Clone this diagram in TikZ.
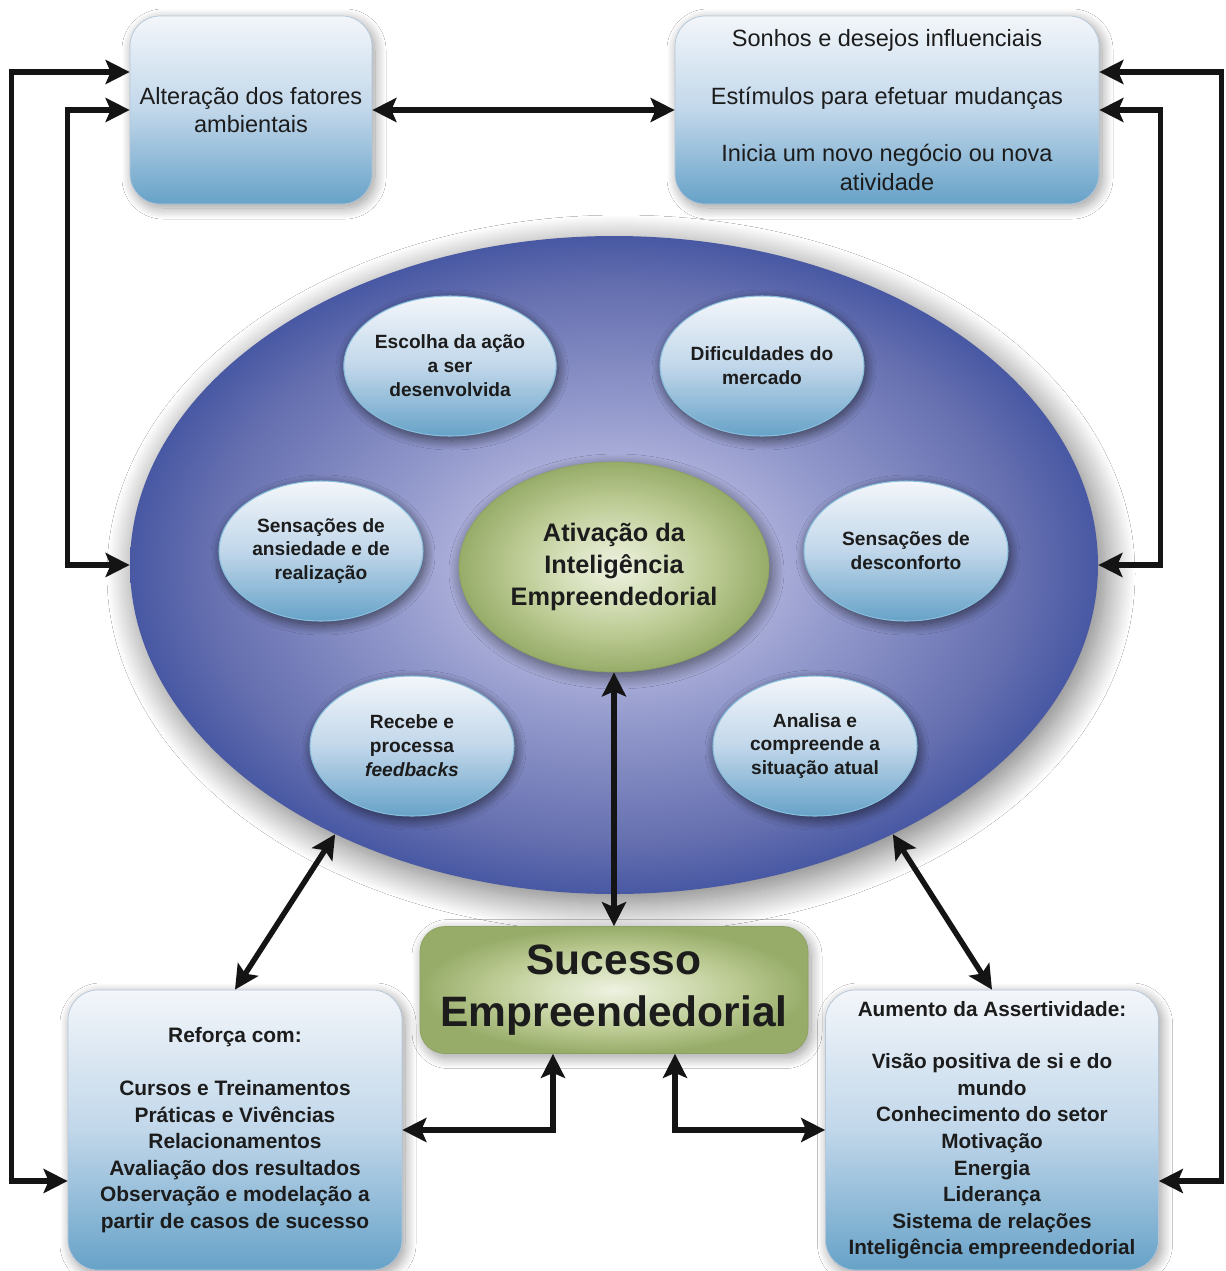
\documentclass[tikz,border=0pt]{standalone}
\usepackage{fontspec}
\setmainfont{Liberation Sans}
\usetikzlibrary{arrows.meta,shapes.geometric,shadows.blur}

\definecolor{boxtop}{HTML}{F3F6FA}
\definecolor{boxmid}{HTML}{C1D7EA}
\definecolor{boxbot}{HTML}{67A2C8}
\definecolor{boxline}{HTML}{B4C6D8}
\definecolor{bubbleline}{HTML}{86BEDC}
\definecolor{ovalin}{HTML}{C9CCE9}
\definecolor{ovalring}{HTML}{B0B3DC}
\definecolor{ovalmid}{HTML}{9097CA}
\definecolor{ovaldeep}{HTML}{6670B0}
\definecolor{ovalout}{HTML}{4858A3}
\definecolor{leafin}{HTML}{EEF2E1}
\definecolor{leafring}{HTML}{D6E0BB}
\definecolor{leafmid}{HTML}{BBCA92}
\definecolor{leafout}{HTML}{97AC69}
\definecolor{leafline}{HTML}{8CA262}
\definecolor{inkgray}{HTML}{1C1C1C}

% path bbox maps to the inner 50bp square
\pgfdeclareradialshading{ovalglow}{\pgfpoint{0bp}{0bp}}{color(0bp)=(ovalin); color(7bp)=(ovalring); color(12.5bp)=(ovalmid); color(21bp)=(ovaldeep); color(25bp)=(ovalout); color(50bp)=(ovalout)}
\pgfdeclareradialshading{leafglow}{\pgfpoint{0bp}{0bp}}{color(0bp)=(leafin); color(8bp)=(leafring); color(16bp)=(leafmid); color(25bp)=(leafout); color(50bp)=(leafout)}

\begin{document}
\begin{tikzpicture}[
  >={Stealth[length=0.48cm,width=0.48cm,inset=0.1cm]},
  box/.style={rectangle, rounded corners=0.6cm, draw=boxline, line width=0.4pt,
    top color=boxtop, bottom color=boxbot, middle color=boxmid,
    blur shadow={shadow xshift=0.6mm, shadow yshift=-0.8mm, shadow blur radius=2.2mm,
      shadow blur steps=24, shadow opacity=40},
    text=inkgray, align=center, inner sep=0pt},
  bubble/.style={ellipse, draw=bubbleline, line width=0.6pt,
    top color=boxtop, bottom color=boxbot, middle color=boxmid,
    blur shadow={shadow xshift=0.4mm, shadow yshift=-0.8mm, shadow blur radius=2mm,
      shadow blur steps=20, shadow opacity=60},
    minimum width=4.08cm, minimum height=2.8cm, inner sep=0pt, align=center,
    text=inkgray, font=\bfseries\fontsize{10.9}{13.6}\selectfont},
  link/.style={<->, line width=3.1pt, draw=black!92}
]
  \useasboundingbox[fill=white] (0,0) rectangle (24.52,-25.42);

  % Top boxes
  \node[box, minimum width=4.84cm, minimum height=3.76cm,
    font=\fontsize{13.4}{16.4}\selectfont] (alt) at (5.02,-2.2)
    {Alteração dos fatores\\ambientais};
  \node[box, minimum width=8.48cm, minimum height=3.76cm,
    font=\fontsize{13.4}{16.4}\selectfont] (dream) at (17.74,-2.2)
    {Sonhos e desejos influenciais\\[16.4pt]Estímulos para efetuar mudanças\\[16.4pt]Inicia um novo negócio ou nova\\atividade};

  % Big oval
  \node[ellipse, shade, shading=ovalglow, minimum width=19.36cm, minimum height=13.16cm,
    blur shadow={shadow xshift=1.4mm, shadow yshift=-1.8mm, shadow blur radius=6mm,
      shadow blur steps=30, shadow opacity=55}]
    (mind) at (12.28,-11.3) {};

  % Bubbles
  \node[bubble] (choice) at (9.0,-7.32) {Escolha da ação\\a ser\\desenvolvida};
  \node[bubble] (hard) at (15.24,-7.32) {Dificuldades do\\mercado};
  \node[bubble] (anx) at (6.42,-11.02) {Sensações de\\ansiedade e de\\realização};
  \node[bubble] (discomf) at (18.12,-11.02) {Sensações de\\desconforto};
  \node[bubble] (feed) at (8.24,-14.92) {Recebe e\\processa\\\textit{feedbacks}};
  \node[bubble] (sit) at (16.3,-14.92) {Analisa e\\compreende a\\situação atual};

  % Core
  \node[ellipse, shade, shading=leafglow, draw=leafline, line width=0.4pt,
    minimum width=6.2cm, minimum height=4.2cm, inner sep=0pt, align=center, text=inkgray,
    blur shadow={shadow xshift=0.5mm, shadow yshift=-0.9mm, shadow blur radius=2.5mm,
      shadow blur steps=20, shadow opacity=55},
    font=\bfseries\fontsize{14.4}{18}\selectfont] (core) at (12.28,-11.34)
    {Ativação da\\Inteligência\\Empreendedorial};

  % Success box
  \node[rectangle, rounded corners=0.5cm, shade, shading=leafglow, draw=leafline, line width=0.4pt,
    minimum width=7.76cm, minimum height=2.54cm, inner sep=0pt, align=center, text=inkgray,
    blur shadow={shadow xshift=0.6mm, shadow yshift=-0.8mm, shadow blur radius=2.2mm,
      shadow blur steps=24, shadow opacity=40},
    font=\bfseries\fontsize{24.2}{30}\selectfont] (win) at (12.28,-19.8)
    {Sucesso\\Empreendedorial};

  % Bottom boxes
  \node[box, minimum width=6.68cm, minimum height=5.6cm,
    font=\bfseries\fontsize{11.9}{15.1}\selectfont] (boost) at (4.7,-22.6)
    {Reforça com:\\[15pt]Cursos e Treinamentos\\Práticas e Vivências\\Relacionamentos\\Avaliação dos resultados\\Observação e modelação a\\partir de casos de sucesso};
  \node[box, minimum width=6.66cm, minimum height=5.6cm,
    font=\bfseries\fontsize{11.8}{15.1}\selectfont] (gain) at (19.84,-22.6)
    {Aumento da Assertividade:\\[15pt]Visão positiva de si e do\\mundo\\Conhecimento do setor\\Motivação\\Energia\\Liderança\\Sistema de relações\\Inteligência empreendedorial};

  % Links
  \draw[link] (alt) -- (dream);
  \draw[link] ([yshift=-1.02cm]boost.west) -- ++(-1.12cm,0) |- ([yshift=0.76cm]alt.west);
  \draw[link] (mind.west) -- ++(-1.24cm,0) |- (alt.west);
  \draw[link] ([yshift=0.76cm]dream.east) -- ++(2.44cm,0) |- ([yshift=-1.02cm]gain.east);
  \draw[link] (dream.east) -- ++(1.22cm,0) |- (mind.east);
  \draw[link] (mind.224) -- (boost.north);
  \draw[link] (mind.-44) -- (gain.north);
  \draw[link] (core) -- (win);
  \draw[link] (boost.east) -| ([xshift=-1.22cm]win.south);
  \draw[link] (gain.west) -| ([xshift=1.22cm]win.south);
\end{tikzpicture}
\end{document}
